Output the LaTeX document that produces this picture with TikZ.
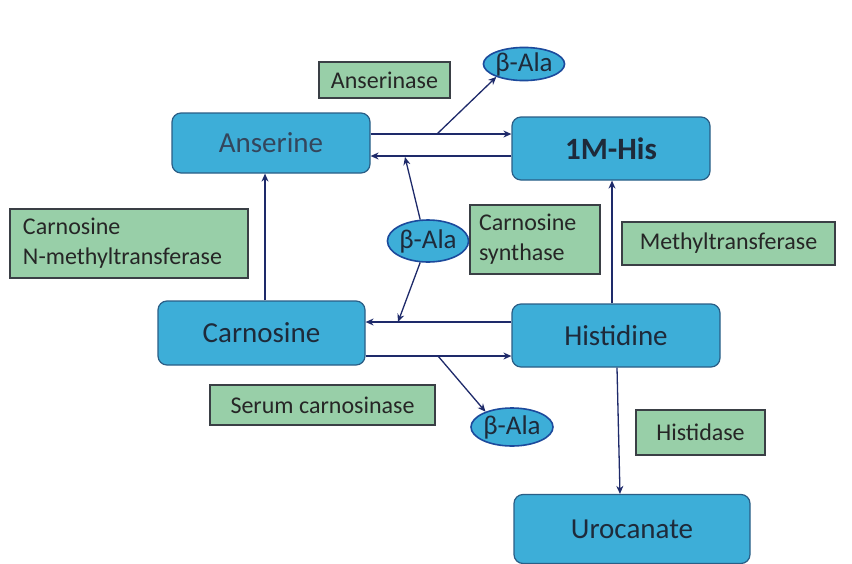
\documentclass[tikz,border=0pt]{standalone}
\usepackage{fontspec}
\setmainfont{Carlito}
\usetikzlibrary{shapes.geometric,arrows.meta}
\definecolor{boxblue}{HTML}{3DAED8}
\definecolor{boxedge}{HTML}{2A5E86}
\definecolor{enzgreen}{HTML}{98CFA8}
\definecolor{enzedge}{HTML}{3A3F45}
\definecolor{arrcol}{HTML}{1E2A6A}
\definecolor{elledge}{HTML}{1C4A9C}
\definecolor{txtdark}{HTML}{1E2A3A}
\definecolor{txtans}{HTML}{34465C}
\tikzset{
  met/.style={draw=boxedge, line width=1.2pt, fill=boxblue, rounded corners=9pt,
    font=\fontsize{29}{32}\selectfont, text=txtdark, inner sep=0pt},
  enz/.style={draw=enzedge, line width=1.1pt, fill=enzgreen,
    font=\fontsize{24}{30}\selectfont, text=black!85, inner sep=0pt},
  ala/.style={ellipse, draw=elledge, line width=1.6pt, fill=boxblue, inner sep=0pt,
    font=\fontsize{27}{30}\selectfont, text=txtdark},
  arr/.style={draw=arrcol, line width=1.3pt, -{Stealth[length=8pt,width=7pt]}},
}
\begin{document}
\begin{tikzpicture}[x=1pt,y=-1pt]
\useasboundingbox[fill=white] (0,0) rectangle (852,563);
% metabolite boxes
\node[met, minimum width=198pt, minimum height=60pt, text=txtans] (ans) at (271,143) {Anserine};
\node[met, minimum width=198pt, minimum height=63pt, font=\fontsize{31}{34}\selectfont\bfseries] (mhis) at (611,148.5) {1M-His};
\node[met, minimum width=207pt, minimum height=64pt] (carn) at (261.5,333) {Carnosine};
\node[met, minimum width=208pt, minimum height=63pt] (his) at (616,335.5) {Histidine};
\node[met, minimum width=236pt, minimum height=69pt] (uro) at (632,529) {Urocanate};
% beta-alanine ellipses
\node[ala, minimum width=80pt, minimum height=33pt] (ala1) at (524,64) {β-Ala};
\node[ala, minimum width=81pt, minimum height=42pt] (ala2) at (428,241) {β-Ala};
\node[ala, minimum width=82pt, minimum height=38pt] (ala3) at (512,427) {β-Ala};
% enzyme labels
\node[enz, minimum width=131pt, minimum height=36pt] (anserinase) at (384.5,80) {Anserinase};
\node[enz, minimum width=238pt, minimum height=69pt, align=left, text width=212pt] (cnmt) at (129,243.5) {Carnosine\\N-methyltransferase};
\node[enz, minimum width=130pt, minimum height=69pt, align=left, text width=112pt] (csyn) at (535,239.5) {Carnosine\\synthase};
\node[enz, minimum width=213pt, minimum height=43pt] (mtr) at (728.5,243.5) {Methyltransferase};
\node[enz, minimum width=225pt, minimum height=40pt] (scn) at (322.5,405) {Serum carnosinase};
\node[enz, minimum width=129pt, minimum height=45pt] (hdase) at (700.5,432.5) {Histidase};
% horizontal reactions
\draw[arr] ([yshift=9pt]ans.east) -- ([yshift=14.5pt]mhis.west);
\draw[arr] ([yshift=-7.5pt]mhis.west) -- ([yshift=-13pt]ans.east);
\draw[arr] ([yshift=13.5pt]his.west) -- ([yshift=11pt]carn.east);
\draw[arr] ([yshift=-23pt]carn.east) -- ([yshift=-20.5pt]his.west);
% vertical reactions
\draw[arr] ([xshift=3.5pt]carn.north) -- ([xshift=-6pt]ans.south);
\draw[arr] ([xshift=-4pt]his.north) -- ([xshift=1pt]mhis.south);
\draw[arr] ([xshift=1pt]his.south) -- ([xshift=-12pt]uro.north);
% beta-alanine branches
\coordinate (b1) at (437,134);
\coordinate (b2) at (405,157);
\coordinate (b3) at (398,322);
\coordinate (b4) at (438,356);
\draw[arr] (b1) -- (ala1.205);
\draw[arr] (ala2.110) -- (b2);
\draw[arr] (ala2.250) -- (b3);
\draw[arr] (b4) -- (ala3.150);
\end{tikzpicture}
\end{document}
